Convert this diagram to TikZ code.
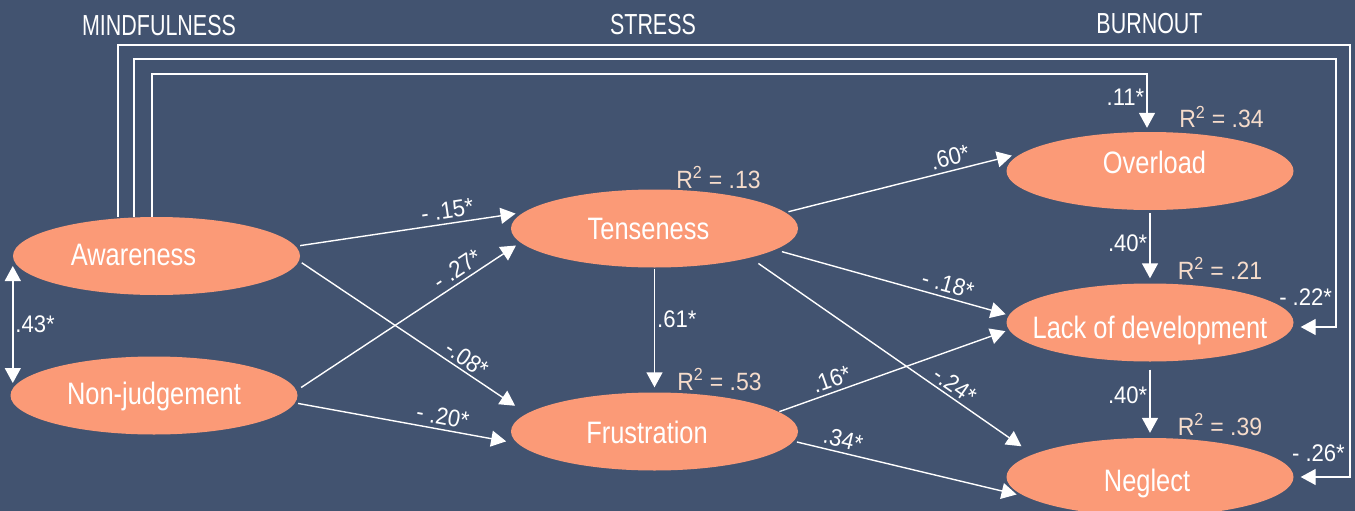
\documentclass[tikz,border=0pt]{standalone}
\usepackage{fontspec}
\setmainfont{Liberation Sans}[FakeStretch=0.82]
\newfontfamily\hdrfont{Liberation Sans}[FakeStretch=0.74]
\newfontfamily\lblfont{Liberation Sans}[FakeStretch=0.92]
\usetikzlibrary{arrows.meta,shapes.geometric}
\definecolor{bgc}{HTML}{425370}
\definecolor{ovc}{HTML}{FB9A77}
\definecolor{rsq}{HTML}{F6DCCB}
\newcommand\lvtext[3]{\hspace*{#1}\makebox[0pt]{\raisebox{#2}{#3}}}
\begin{document}
\begin{tikzpicture}[x=1pt,y=-1pt,
  lv/.style={ellipse, fill=ovc, inner sep=0pt, minimum width=287pt, minimum height=78pt,
    text=white, font=\fontsize{31}{31}\selectfont, text height=22pt, text depth=0pt},
  arr/.style={draw=white, line width=1.4pt, -{Triangle[length=15pt,width=16pt]}},
  coef/.style={text=white, font=\lblfont\fontsize{24}{24}\selectfont, inner sep=2pt},
  rs/.style={text=rsq, font=\lblfont\fontsize{25}{25}\selectfont, inner sep=0pt, anchor=base},
  hd/.style={text=white, font=\hdrfont\fontsize{29}{29}\selectfont, inner sep=0pt}]
\fill[bgc] (0,0) rectangle (1355,511);
\useasboundingbox (0,0) rectangle (1355,511);

% headers
\node[hd] (h1) at (159,25.5) {MINDFULNESS};
\node[hd] (h2) at (653,25) {STRESS};
\node[hd] (h3) at (1149.5,23.5) {BURNOUT};

% latent variables
\node[lv] (aw) at (156.5,256) {\lvtext{-46pt}{2pt}{Awareness}};
\node[lv] (nj) at (154,395.5) {\lvtext{0pt}{2pt}{Non-judgement}};
\node[lv] (te) at (654.5,228.5) {\lvtext{-12pt}{0pt}{Tenseness}};
\node[lv] (fr) at (654.5,431.5) {\lvtext{-15pt}{-1pt}{Frustration}};
\node[lv] (ov) at (1150,171) {\lvtext{9pt}{9pt}{Overload}};
\node[lv] (la) at (1150,322.5) {\lvtext{0pt}{-5pt}{Lack of development}};
\node[lv] (ne) at (1150,477) {\lvtext{-6pt}{-3pt}{Neglect}};

% R squared
\node[rs] (r1) at (718.5,188) {R\textsuperscript{2} = .13};
\node[rs] (r2) at (719.5,390) {R\textsuperscript{2} = .53};
\node[rs] (r3) at (1221.5,128) {R\textsuperscript{2} = .34};
\node[rs] (r4) at (1220,279) {R\textsuperscript{2} = .21};
\node[rs] (r5) at (1220,435) {R\textsuperscript{2} = .39};

% paths mindfulness -> stress
\draw[arr, shorten <=4.5pt, shorten >=8pt] (aw.4) -- (te.173.3)
  node[coef, sloped, above=2pt, pos=0.674] {- .15*};
\draw[arr, shorten <=5.5pt, shorten >=5.3pt] (nj.2.94) -- (te.186.4)
  node[coef, sloped, above=2pt, pos=0.749] {- .27*};
\draw[arr, shorten <=3.3pt, shorten >=14pt] (aw.-2.79) -- (fr.172.2)
  node[coef, sloped, above=1pt, pos=0.708] {-.08*};
\draw[arr, shorten <=3pt, shorten >=11.7pt] (nj.-3.4) -- (fr.185.2)
  node[coef, sloped, above=2pt, pos=0.653] {- .20*};

% stress
\draw[arr, shorten <=1pt, shorten >=5pt] (te.south) -- (fr.north)
  node[coef, right, pos=0.41] {.61*};

% stress -> burnout
\draw[arr, shorten <=3pt, shorten >=10.7pt] (te.7.58) -- (ov.172.7)
  node[coef, sloped, above=2pt, pos=0.708] {.60*};
\draw[arr, shorten <=7pt, shorten >=3.3pt] (te.-10.09) -- (la.177.8)
  node[coef, sloped, above=2pt, pos=0.724] {- .18*};
\draw[arr, shorten <=10pt, shorten >=14pt] (te.-17.6) -- (ne.169.8)
  node[coef, sloped, above=1pt, pos=0.70] {-.24*};
\draw[arr, shorten <=0.7pt, shorten >=3.7pt] (fr.9.5) -- (la.183)
  node[coef, sloped, above=2pt, pos=0.248] {.16*};
\draw[arr, shorten <=3.3pt, shorten >=9.4pt] (fr.-4.68) -- (ne.189)
  node[coef, sloped, above=2pt, pos=0.20] {.34*};

% burnout
\draw[arr, shorten <=3pt, shorten >=5pt] (ov.south) -- (la.north)
  node[coef, left, pos=0.45] {.40*};
\draw[arr, shorten <=8pt, shorten >=5pt] (la.south) -- (ne.north)
  node[coef, left, pos=0.44] {.40*};

% correlation
\draw[arr, {Triangle[length=15pt,width=16pt]}-{Triangle[length=15pt,width=16pt]}]
  ([yshift=-10pt]aw.west) -- ([yshift=12.5pt]nj.west -| aw.west)
  node[coef, right, midway] {.43*};

% long paths from awareness
\coordinate (c1) at (118,45);
\coordinate (c2) at (1350,45);
\coordinate (d1) at (134,59);
\coordinate (d2) at (1336,59);
\coordinate (e1) at (152,74);
\coordinate (e2) at (1147,74);
\draw[arr] (aw.north -| c1) -- (c1) -- (c2) |- ([xshift=7pt]ne.east)
  node[coef, above=13pt, pos=0.82] {- .26*};
\draw[arr] (aw.north -| d1) -- (d1) -- (d2) |- ([xshift=7pt,yshift=-4.5pt]la.east)
  node[coef, above=19pt, pos=0.93] {- .22*};
\draw[arr] (aw.north -| e1) -- (e1) -- (e2) -- ([yshift=4pt]ov.north -| e2)
  node[coef, left, pos=0.43] {.11*};
\end{tikzpicture}
\end{document}
